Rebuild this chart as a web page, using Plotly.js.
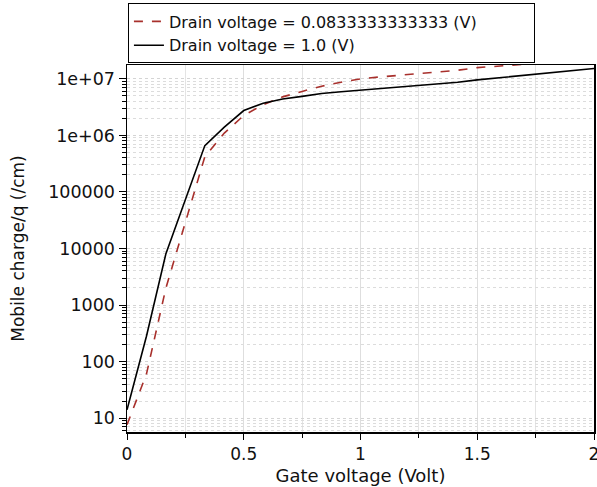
<!DOCTYPE html>
<html>
<head>
<meta charset="utf-8">
<script src="https://cdn.plot.ly/plotly-3.0.1.min.js"></script>
<style>
html,body{margin:0;padding:0;background:#fff;}
#chart{width:597px;height:487px;}
</style>
</head>
<body>
<div id="chart"></div>
<script>
// Gate voltage (Volt)
const gateVoltage = [0, 0.0833, 0.1667, 0.25, 0.3333, 0.4167, 0.5, 0.5833, 0.6667, 0.75, 0.8333, 0.9167, 1.0,
  1.0833, 1.1667, 1.25, 1.3333, 1.4167, 1.5, 1.5833, 1.6667, 1.75, 1.8333, 1.9167, 2.0];
// Mobile charge/q (/cm), drain voltage = 0.0833333333333 V
const chargeLowVd = [7.6, 60, 2000, 28000, 420000, 1100000, 2250000, 3500000, 4800000, 6000000, 7400000, 8700000, 10000000,
  10800000, 11600000, 12400000, 13300000, 14200000, 15800000, 16800000, 17800000, 18800000, 19800000, 20800000, 21500000];
// Mobile charge/q (/cm), drain voltage = 1.0 V
const chargeHighVd = [14, 280, 8100, 75000, 660000, 1400000, 2750000, 3700000, 4400000, 4900000, 5500000, 5900000, 6300000,
  6700000, 7100000, 7600000, 8100000, 8700000, 9600000, 10400000, 11200000, 12000000, 13000000, 14000000, 15200000];
const seriesNames = ["Drain voltage = 0.0833333333333 (V)", "Drain voltage = 1.0 (V)"];
const xTickVals = [0, 0.5, 1, 1.5, 2];
const xTickText = ["0", "0.5", "1", "1.5", "2"];
const yTickVals = [10, 100, 1000, 10000, 100000, 1000000, 10000000];
const yTickText = ["10", "100", "1000", "10000", "100000", "1e+06", "1e+07"];

const font = "DejaVu Sans, Verdana, sans-serif";
const traces = [
  {x: gateVoltage, y: chargeLowVd, name: seriesNames[0], mode: "lines", type: "scatter",
   line: {color: "#a8302c", width: 1.6, dash: "dash"}},
  {x: gateVoltage, y: chargeHighVd, name: seriesNames[1], mode: "lines", type: "scatter",
   line: {color: "#000000", width: 1.6}}
];
const layout = {
  width: 597, height: 487,
  margin: {l: 127, r: 3, t: 62, b: 55},
  paper_bgcolor: "#fff", plot_bgcolor: "#fff",
  font: {family: font, size: 17, color: "#111"},
  showlegend: true,
  legend: {x: 0.002, y: 1.1676, xanchor: "left", yanchor: "top", bgcolor: "#fff",
    orientation: "h", entrywidth: 360, entrywidthmode: "pixels",
    bordercolor: "#000", borderwidth: 1, font: {family: font, size: 16, color: "#111"}, tracegroupgap: 0,
    itemwidth: 30},
  xaxis: {
    range: [0, 2], tickvals: xTickVals, ticktext: xTickText, ticklabeloverflow: "allow",
    ticks: "outside", ticklen: 6, tickcolor: "#000",
    showline: true, linecolor: "#000", linewidth: 1.5, mirror: true,
    showgrid: true, gridcolor: "#dedede", gridwidth: 1, zeroline: false,
    tickfont: {family: font, size: 17, color: "#111"},
    minor: {dtick: 0.25, ticks: "outside", ticklen: 4, tickcolor: "#000", showgrid: true, gridcolor: "#e4e4e4"},
    title: {text: "Gate voltage (Volt)", font: {family: font, size: 18, color: "#111"}, standoff: 6}
  },
  yaxis: {
    type: "log", range: [0.754, 7.245],
    tickvals: yTickVals, ticktext: yTickText,
    ticks: "outside", ticklen: 7, tickcolor: "#000",
    showline: true, linecolor: "#000", linewidth: 1.5, mirror: true,
    showgrid: true, gridcolor: "#d4d4d4", griddash: "dot", gridwidth: 1, zeroline: false,
    tickfont: {family: font, size: 17.5, color: "#111"},
    minor: {dtick: "D1", ticks: "outside", ticklen: 4, tickcolor: "#000", showgrid: true, gridcolor: "#dcdcdc", griddash: "dot"},
    title: {text: "Mobile charge/q (/cm)", font: {family: font, size: 17, color: "#111"}, standoff: 19}
  }
};
Plotly.newPlot("chart", traces, layout, {displayModeBar: false, staticPlot: true});
</script>
</body>
</html>
